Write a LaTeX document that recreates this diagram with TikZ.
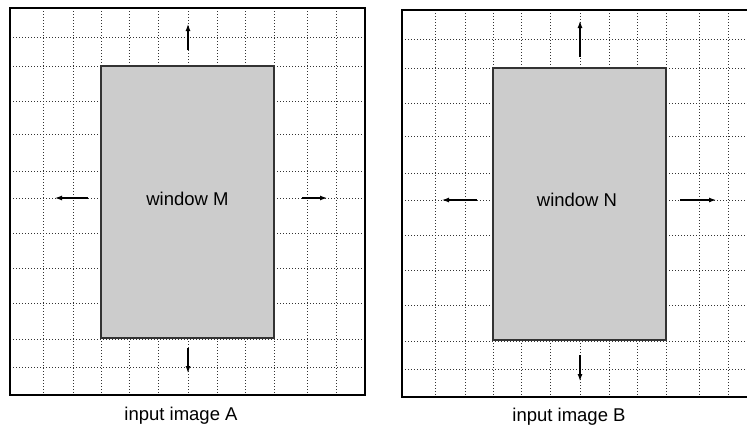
\documentclass[tikz,border=0pt]{standalone}
\usepackage{fontspec}
\setmainfont{Liberation Sans}
\usetikzlibrary{arrows.meta}
\begin{document}
\begin{tikzpicture}[x=1pt,y=-1pt,
  frame/.style={draw=black,line width=1.1pt,inner sep=0pt,outer sep=0pt,
                minimum width=355pt,minimum height=387pt,anchor=north west},
  gridline/.style={draw=black!80,line width=0.9pt,dash pattern=on 0.9pt off 2.1pt},
  win/.style={draw=black!80,line width=1.4pt,fill=black!20,inner sep=0pt,outer sep=0pt,
              minimum width=173pt,minimum height=272pt,anchor=north west},
  motion/.style={-{Latex[length=7pt,width=5pt]},line width=1.2pt},
  lbl/.style={font=\fontsize{18.5}{22}\selectfont,anchor=base,inner sep=0pt}]
\useasboundingbox (0,0) rectangle (747,426);
\clip (0,0) rectangle (747,426);

% ---------- input image A ----------
\begin{scope}
  \foreach \gx in {43,73,101,129,158,188,217,245,274,307,336}
    \draw[gridline] (\gx,8) -- (\gx,395);
  \foreach \gy in {37,66,101,134,171,198,233,268,303,339,367}
    \draw[gridline] (10,\gy) -- (365,\gy);
  \node[frame] (imgA) at (10,8) {};
  \node[win] (winM) at (101,66) {};
  \node[lbl] (winMtext) at (187.5,205) {window M};
  \coordinate (aUp0) at (188,50);  \coordinate (aUp1) at (188,24);
  \coordinate (aDn0) at (188,348); \coordinate (aDn1) at (188,373);
  \coordinate (aLf0) at (88,198);  \coordinate (aLf1) at (55,198);
  \coordinate (aRt0) at (302,198); \coordinate (aRt1) at (327,198);
  \draw[motion] (aUp0) -- (aUp1);
  \draw[motion] (aDn0) -- (aDn1);
  \draw[motion] (aLf0) -- (aLf1);
  \draw[motion] (aRt0) -- (aRt1);
  \node[lbl] (capA) at (181,420) {input image A};
\end{scope}

% ---------- input image B ----------
\begin{scope}[shift={(392,2)}]
  \foreach \gx in {43,73,101,129,158,188,217,245,274,307,336}
    \draw[gridline] (\gx,8) -- (\gx,395);
  \foreach \gy in {37,66,101,134,171,198,233,268,303,339,367}
    \draw[gridline] (10,\gy) -- (365,\gy);
  \node[frame] (imgB) at (10,8) {};
  \node[win] (winN) at (101,66) {};
  \node[lbl] (winNtext) at (185,204) {window N};
  \coordinate (bUp0) at (188,55);  \coordinate (bUp1) at (188,19);
  \coordinate (bDn0) at (188,353); \coordinate (bDn1) at (188,379);
  \coordinate (bLf0) at (85,198);  \coordinate (bLf1) at (50,198);
  \coordinate (bRt0) at (288,198); \coordinate (bRt1) at (324,198);
  \draw[motion] (bUp0) -- (bUp1);
  \draw[motion] (bDn0) -- (bDn1);
  \draw[motion] (bLf0) -- (bLf1);
  \draw[motion] (bRt0) -- (bRt1);
  \node[lbl] (capB) at (177,419) {input image B};
\end{scope}
\end{tikzpicture}
\end{document}
